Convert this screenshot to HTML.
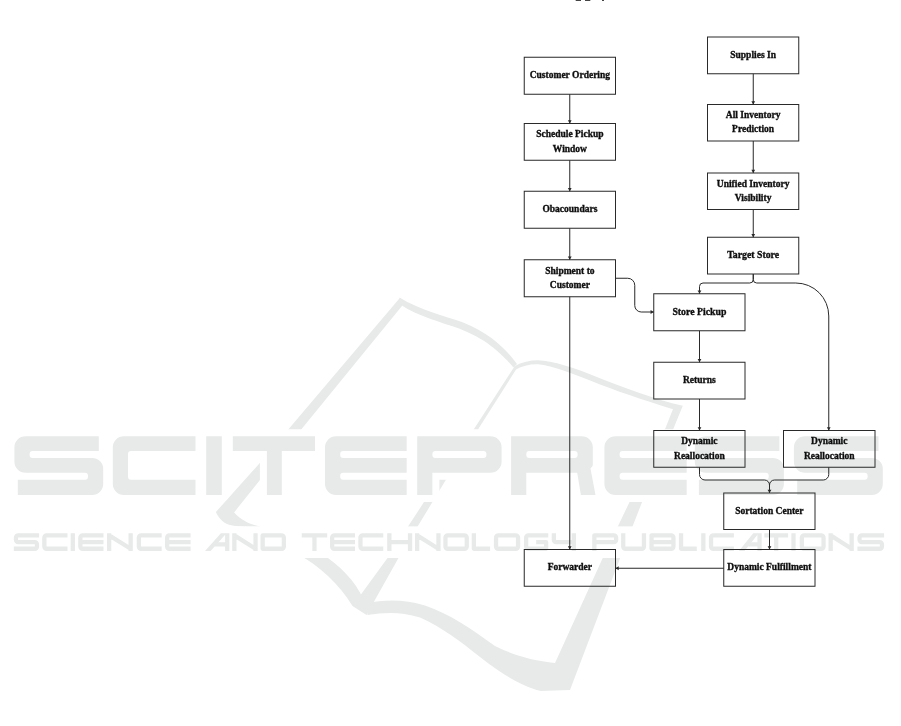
<!DOCTYPE html>
<html><head><meta charset="utf-8"><title>Flow diagram</title>
<style>
html,body{margin:0;padding:0;background:#fff;}
body{width:901px;height:726px;overflow:hidden;font-family:"Liberation Serif",serif;}
svg{display:block;}
</style></head><body>
<svg width="901" height="726" viewBox="0 0 901 726">
<defs><filter id="bl2" x="0" y="0" width="901" height="726" filterUnits="userSpaceOnUse"><feGaussianBlur stdDeviation="0.6"/></filter></defs>
<rect width="901" height="726" fill="#fff"/>
<g id="wm" filter="url(#bl2)">
<g fill="#e8eaea" stroke="none">
<path d="M400 297.8 L259.6 463.3 L215.9 511.9 C218 517 222 522 229 524.8 C238 527 250 526.8 260.4 526.4 C250 524.5 241 520 234.1 512.4 L259.4 480.7 L404 303.5 Z"/>
<path d="M399.5 297.5 C420 310 445 316 462 322 C490 333 505 348 517 364 L513.5 367.5 C500 352 486 339 459 328.5 C440 322 418 316 401 305 Z"/>
<path d="M514 366.5 C522 362 530 360.3 538 360.3 C552 360.5 575 368 600 378.3 C625 388 655 399.5 682.8 405.8 L674 409.5 C655 403.5 625 394 600 384.4 C575 374.5 552 365.5 538 364.3 C530 364 522 366 516 369.5 Z"/>
<path d="M518 366.5 L445.5 480.5 L398.5 558 L366.5 615 L352.5 606 L387.5 558 L438 480.5 L474 429 L514.5 366.5 Z"/>
<path d="M296 553 C320 566 340 585 352.5 606 L363.75 600 C355 580 340 566 321 553 Z"/>
<path d="M366 603 C385 599.5 405 599 425 605.5 C450 614 470 628 495 646 C515 656 535 661 555 663 L602.5 558.5 L630 501 L665.6 427.8 L673.3 408.3 L682.8 405.8 L673.3 428.9 L642.5 501 L620 558.5 L570 690 L541 691 C522 686.5 503 675 480 657 C460 641 443 628 420 617.5 C400 611.5 385 612.5 367.5 615 Z"/>
</g>
<path d="M14.40 447.20A11.0 11.0 0 0 1 25.40 436.20L98.80 436.20L98.80 451.10L32.60 451.10A3.0 3.0 0 0 0 29.60 454.10L29.60 454.90A3.0 3.0 0 0 0 32.60 457.90L92.20 457.90A11.0 11.0 0 0 1 103.20 468.90L103.20 483.90A11.0 11.0 0 0 1 92.20 494.90L17.80 494.90L17.80 479.70L85.00 479.70A3.0 3.0 0 0 0 88.00 476.70L88.00 475.80A3.0 3.0 0 0 0 85.00 472.80L25.40 472.80A11.0 11.0 0 0 1 14.40 461.80Z M112.80 447.20A11.0 11.0 0 0 1 123.80 436.20L195.50 436.20L195.50 451.10L131.00 451.10A3.0 3.0 0 0 0 128.00 454.10L128.00 476.70A3.0 3.0 0 0 0 131.00 479.70L195.50 479.70L195.50 494.90L123.80 494.90A11.0 11.0 0 0 1 112.80 483.90Z M206.20 436.20L221.80 436.20L221.80 494.90L206.20 494.90Z M232.80 436.20L315.00 436.20L315.00 451.10L281.80 451.10L281.80 494.90L266.90 494.90L266.90 451.10L232.80 451.10Z M325.00 447.20A11.0 11.0 0 0 1 336.00 436.20L406.70 436.20L406.70 451.10L343.20 451.10A3.0 3.0 0 0 0 340.20 454.10L340.20 454.90A3.0 3.0 0 0 0 343.20 457.90L406.70 457.90L406.70 472.80L343.20 472.80A3.0 3.0 0 0 0 340.20 475.80L340.20 476.70A3.0 3.0 0 0 0 343.20 479.70L406.70 479.70L406.70 494.90L336.00 494.90A11.0 11.0 0 0 1 325.00 483.90Z M417.20 436.20L490.60 436.20A11.0 11.0 0 0 1 501.60 447.20L501.60 461.80A11.0 11.0 0 0 1 490.60 472.80L432.40 472.80L432.40 494.90L417.20 494.90ZM435.40 451.10A3.0 3.0 0 0 0 432.40 454.10L432.40 454.90A3.0 3.0 0 0 0 435.40 457.90L483.40 457.90A3.0 3.0 0 0 0 486.40 454.90L486.40 454.10A3.0 3.0 0 0 0 483.40 451.10Z M511.10 436.20L581.80 436.20A11.0 11.0 0 0 1 592.80 447.20L592.80 464.83A3.0 3.0 0 0 1 592.01 466.86L590.50 468.50L595.50 494.90L580.90 494.90L577.20 472.80L526.30 472.80L526.30 494.90L511.10 494.90ZM529.30 451.10A3.0 3.0 0 0 0 526.30 454.10L526.30 454.90A3.0 3.0 0 0 0 529.30 457.90L574.60 457.90A3.0 3.0 0 0 0 577.60 454.90L577.60 454.10A3.0 3.0 0 0 0 574.60 451.10Z M604.40 447.20A11.0 11.0 0 0 1 615.40 436.20L686.70 436.20L686.70 451.10L622.60 451.10A3.0 3.0 0 0 0 619.60 454.10L619.60 454.90A3.0 3.0 0 0 0 622.60 457.90L686.70 457.90L686.70 472.80L622.60 472.80A3.0 3.0 0 0 0 619.60 475.80L619.60 476.70A3.0 3.0 0 0 0 622.60 479.70L686.70 479.70L686.70 494.90L615.40 494.90A11.0 11.0 0 0 1 604.40 483.90Z M694.80 447.20A11.0 11.0 0 0 1 705.80 436.20L779.40 436.20L779.40 451.10L713.00 451.10A3.0 3.0 0 0 0 710.00 454.10L710.00 454.90A3.0 3.0 0 0 0 713.00 457.90L772.90 457.90A11.0 11.0 0 0 1 783.90 468.90L783.90 483.90A11.0 11.0 0 0 1 772.90 494.90L698.90 494.90L698.90 479.70L765.70 479.70A3.0 3.0 0 0 0 768.70 476.70L768.70 475.80A3.0 3.0 0 0 0 765.70 472.80L705.80 472.80A11.0 11.0 0 0 1 694.80 461.80Z M793.90 447.20A11.0 11.0 0 0 1 804.90 436.20L878.50 436.20L878.50 451.10L812.10 451.10A3.0 3.0 0 0 0 809.10 454.10L809.10 454.90A3.0 3.0 0 0 0 812.10 457.90L871.80 457.90A11.0 11.0 0 0 1 882.80 468.90L882.80 483.90A11.0 11.0 0 0 1 871.80 494.90L797.20 494.90L797.20 479.70L864.60 479.70A3.0 3.0 0 0 0 867.60 476.70L867.60 475.80A3.0 3.0 0 0 0 864.60 472.80L804.90 472.80A11.0 11.0 0 0 1 793.90 461.80Z" fill="#fff" fill-rule="nonzero" stroke="#fff" stroke-width="14.00" stroke-linejoin="round"/>
<rect x="5" y="526.4" width="890" height="31.6" fill="#fff"/>
<path d="M14.40 447.20A11.0 11.0 0 0 1 25.40 436.20L98.80 436.20L98.80 451.10L32.60 451.10A3.0 3.0 0 0 0 29.60 454.10L29.60 454.90A3.0 3.0 0 0 0 32.60 457.90L92.20 457.90A11.0 11.0 0 0 1 103.20 468.90L103.20 483.90A11.0 11.0 0 0 1 92.20 494.90L17.80 494.90L17.80 479.70L85.00 479.70A3.0 3.0 0 0 0 88.00 476.70L88.00 475.80A3.0 3.0 0 0 0 85.00 472.80L25.40 472.80A11.0 11.0 0 0 1 14.40 461.80Z M112.80 447.20A11.0 11.0 0 0 1 123.80 436.20L195.50 436.20L195.50 451.10L131.00 451.10A3.0 3.0 0 0 0 128.00 454.10L128.00 476.70A3.0 3.0 0 0 0 131.00 479.70L195.50 479.70L195.50 494.90L123.80 494.90A11.0 11.0 0 0 1 112.80 483.90Z M206.20 436.20L221.80 436.20L221.80 494.90L206.20 494.90Z M232.80 436.20L315.00 436.20L315.00 451.10L281.80 451.10L281.80 494.90L266.90 494.90L266.90 451.10L232.80 451.10Z M325.00 447.20A11.0 11.0 0 0 1 336.00 436.20L406.70 436.20L406.70 451.10L343.20 451.10A3.0 3.0 0 0 0 340.20 454.10L340.20 454.90A3.0 3.0 0 0 0 343.20 457.90L406.70 457.90L406.70 472.80L343.20 472.80A3.0 3.0 0 0 0 340.20 475.80L340.20 476.70A3.0 3.0 0 0 0 343.20 479.70L406.70 479.70L406.70 494.90L336.00 494.90A11.0 11.0 0 0 1 325.00 483.90Z M417.20 436.20L490.60 436.20A11.0 11.0 0 0 1 501.60 447.20L501.60 461.80A11.0 11.0 0 0 1 490.60 472.80L432.40 472.80L432.40 494.90L417.20 494.90ZM435.40 451.10A3.0 3.0 0 0 0 432.40 454.10L432.40 454.90A3.0 3.0 0 0 0 435.40 457.90L483.40 457.90A3.0 3.0 0 0 0 486.40 454.90L486.40 454.10A3.0 3.0 0 0 0 483.40 451.10Z M511.10 436.20L581.80 436.20A11.0 11.0 0 0 1 592.80 447.20L592.80 464.83A3.0 3.0 0 0 1 592.01 466.86L590.50 468.50L595.50 494.90L580.90 494.90L577.20 472.80L526.30 472.80L526.30 494.90L511.10 494.90ZM529.30 451.10A3.0 3.0 0 0 0 526.30 454.10L526.30 454.90A3.0 3.0 0 0 0 529.30 457.90L574.60 457.90A3.0 3.0 0 0 0 577.60 454.90L577.60 454.10A3.0 3.0 0 0 0 574.60 451.10Z M604.40 447.20A11.0 11.0 0 0 1 615.40 436.20L686.70 436.20L686.70 451.10L622.60 451.10A3.0 3.0 0 0 0 619.60 454.10L619.60 454.90A3.0 3.0 0 0 0 622.60 457.90L686.70 457.90L686.70 472.80L622.60 472.80A3.0 3.0 0 0 0 619.60 475.80L619.60 476.70A3.0 3.0 0 0 0 622.60 479.70L686.70 479.70L686.70 494.90L615.40 494.90A11.0 11.0 0 0 1 604.40 483.90Z M694.80 447.20A11.0 11.0 0 0 1 705.80 436.20L779.40 436.20L779.40 451.10L713.00 451.10A3.0 3.0 0 0 0 710.00 454.10L710.00 454.90A3.0 3.0 0 0 0 713.00 457.90L772.90 457.90A11.0 11.0 0 0 1 783.90 468.90L783.90 483.90A11.0 11.0 0 0 1 772.90 494.90L698.90 494.90L698.90 479.70L765.70 479.70A3.0 3.0 0 0 0 768.70 476.70L768.70 475.80A3.0 3.0 0 0 0 765.70 472.80L705.80 472.80A11.0 11.0 0 0 1 694.80 461.80Z M793.90 447.20A11.0 11.0 0 0 1 804.90 436.20L878.50 436.20L878.50 451.10L812.10 451.10A3.0 3.0 0 0 0 809.10 454.10L809.10 454.90A3.0 3.0 0 0 0 812.10 457.90L871.80 457.90A11.0 11.0 0 0 1 882.80 468.90L882.80 483.90A11.0 11.0 0 0 1 871.80 494.90L797.20 494.90L797.20 479.70L864.60 479.70A3.0 3.0 0 0 0 867.60 476.70L867.60 475.80A3.0 3.0 0 0 0 864.60 472.80L804.90 472.80A11.0 11.0 0 0 1 793.90 461.80Z" fill="#e8eaea" fill-rule="evenodd" stroke="none"/>
<path d="M39.1 535.35H18.150000000000002a2.2 2.2 0 0 0 -2.2 2.2V539.8499999999999a2.2 2.2 0 0 0 2.2 2.2H34.75a2.2 2.2 0 0 1 2.2 2.2V546.55a2.2 2.2 0 0 1 -2.2 2.2H13.8 M67.5 535.35H46.550000000000004a2.2 2.2 0 0 0 -2.2 2.2V546.55a2.2 2.2 0 0 0 2.2 2.2H67.5 M72.80000000000001 533.2V550.9 M103.5 535.35H82.55000000000001a2.2 2.2 0 0 0 -2.2 2.2V546.55a2.2 2.2 0 0 0 2.2 2.2H103.5M80.35000000000001 542.05H103.5 M109.15 550.9V533.2M109.15 535.35L130.65 548.75M130.65 550.9V533.2 M161.7 535.35H141.04999999999998a2.2 2.2 0 0 0 -2.2 2.2V546.55a2.2 2.2 0 0 0 2.2 2.2H161.7 M190.6 535.35H169.35a2.2 2.2 0 0 0 -2.2 2.2V546.55a2.2 2.2 0 0 0 2.2 2.2H190.6M167.15 542.05H190.6 M227.25 533.2V550.9M214.5 544.35H227.25 M234.35 550.9V533.2M234.35 535.35L255.54999999999998 548.75M255.54999999999998 550.9V533.2 M262.65 535.35H281.65000000000003a2.2 2.2 0 0 1 2.2 2.2V546.55a2.2 2.2 0 0 1 -2.2 2.2H262.65Z M301.7 535.35H327.2M314.45 535.35V550.9 M355.0 535.35H334.34999999999997a2.2 2.2 0 0 0 -2.2 2.2V546.55a2.2 2.2 0 0 0 2.2 2.2H355.0M332.15 542.05H355.0 M383.3 535.35H362.65a2.2 2.2 0 0 0 -2.2 2.2V546.55a2.2 2.2 0 0 0 2.2 2.2H383.3 M389.34999999999997 533.2V550.9M410.05 533.2V550.9M389.34999999999997 542.05H410.05 M417.15 550.9V533.2M417.15 535.35L438.45000000000005 548.75M438.45000000000005 550.9V533.2 M447.65 535.35H464.55a2.2 2.2 0 0 1 2.2 2.2V546.55a2.2 2.2 0 0 1 -2.2 2.2H447.65a2.2 2.2 0 0 1 -2.2 -2.2V537.5500000000001a2.2 2.2 0 0 1 2.2 -2.2Z M473.84999999999997 533.2V548.75H490.1 M498.24999999999994 535.35H515.85a2.2 2.2 0 0 1 2.2 2.2V546.55a2.2 2.2 0 0 1 -2.2 2.2H498.24999999999994a2.2 2.2 0 0 1 -2.2 -2.2V537.5500000000001a2.2 2.2 0 0 1 2.2 -2.2Z M548.3 535.35H528.35a2.2 2.2 0 0 0 -2.2 2.2V546.55a2.2 2.2 0 0 0 2.2 2.2H546.15V542.05H536.15 M553.85 533.2V539.8499999999999a2.2 2.2 0 0 0 2.2 2.2H573.85M573.85 533.2V550.9 M594.35 550.9V535.35H613.9499999999999a2.2 2.2 0 0 1 2.2 2.2V539.8499999999999a2.2 2.2 0 0 1 -2.2 2.2H594.35 M623.25 533.2V546.55a2.2 2.2 0 0 0 2.2 2.2H641.75a2.2 2.2 0 0 0 2.2 -2.2V533.2 M651.55 535.35H671.25a2.2 2.2 0 0 1 2.2 2.2V546.55a2.2 2.2 0 0 1 -2.2 2.2H651.55ZM651.55 542.05H673.45 M681.05 533.2V548.75H696.8 M703.35 533.2V550.9 M733.9 535.35H713.25a2.2 2.2 0 0 0 -2.2 2.2V546.55a2.2 2.2 0 0 0 2.2 2.2H733.9 M759.5500000000001 533.2V550.9M748.4 544.35H759.5500000000001 M764.3 535.35H788.1M776.2 535.35V550.9 M793.5 533.2V550.9 M804.0500000000001 535.35H821.35a2.2 2.2 0 0 1 2.2 2.2V546.55a2.2 2.2 0 0 1 -2.2 2.2H804.0500000000001a2.2 2.2 0 0 1 -2.2 -2.2V537.5500000000001a2.2 2.2 0 0 1 2.2 -2.2Z M830.65 550.9V533.2M830.65 535.35L851.65 548.75M851.65 550.9V533.2 M884.1 535.35H861.75a2.2 2.2 0 0 0 -2.2 2.2V539.8499999999999a2.2 2.2 0 0 0 2.2 2.2H879.75a2.2 2.2 0 0 1 2.2 2.2V546.55a2.2 2.2 0 0 1 -2.2 2.2H857.4" fill="none" stroke="#e8eaea" stroke-width="4.30" stroke-linejoin="round"/>
<path d="M205.0 550.9H210.6L225.6 534.2V533.2H220.9Z M738.9 550.9H744.5L757.9000000000001 534.2V533.2H753.2Z" fill="#e8eaea" stroke="none"/>
</g>
<defs><filter id="bl" x="0" y="0" width="901" height="726" filterUnits="userSpaceOnUse"><feGaussianBlur stdDeviation="0.4"/></filter></defs><g filter="url(#bl)">
<g fill="none" stroke="#2a2a2a" stroke-width="1">
<rect x="524.25" y="57.25" width="91.25" height="37.00"/>
<rect x="524.25" y="123.50" width="91.25" height="36.75"/>
<rect x="524.25" y="191.25" width="91.25" height="37.00"/>
<rect x="524.25" y="259.75" width="91.25" height="37.00"/>
<rect x="524.25" y="549.50" width="91.25" height="36.75"/>
<rect x="707.50" y="37.00" width="91.25" height="36.75"/>
<rect x="707.50" y="104.50" width="91.25" height="36.50"/>
<rect x="707.50" y="173.00" width="91.25" height="36.50"/>
<rect x="707.50" y="237.25" width="91.25" height="36.75"/>
<rect x="653.75" y="293.75" width="91.25" height="37.00"/>
<rect x="653.75" y="362.25" width="91.25" height="36.75"/>
<rect x="653.75" y="430.50" width="91.25" height="36.75"/>
<rect x="783.50" y="430.50" width="91.50" height="36.75"/>
<rect x="723.75" y="493.00" width="91.25" height="36.50"/>
<rect x="723.75" y="549.50" width="91.25" height="36.75"/>
<path d="M569.75 94.25V123.50"/>
<path d="M569.75 160.25V191.25"/>
<path d="M569.75 228.25V259.75"/>
<path d="M569.75 296.75V549.50"/>
<path d="M753.25 73.75V104.50"/>
<path d="M753.25 141.00V173.00"/>
<path d="M753.25 209.50V237.25"/>
<path d="M699.50 330.75V362.25"/>
<path d="M699.50 399.00V430.50"/>
<path d="M769.50 529.50V549.50"/>
<path d="M723.75 568.25H615.5"/>
<path d="M615.5 278.25H627.75a7 7 0 0 1 7 7V305.5a6.5 6.5 0 0 0 6.5 6.5H653.75"/>
<path d="M753.25 274V279.5a3.5 3.5 0 0 1 -3.5 3.5H703a3.5 3.5 0 0 0 -3.5 3.5V293.75"/>
<path d="M753.25 274V279.5a3.5 3.5 0 0 0 3.5 3.5H795.75a33 33 0 0 1 33 33V430.5"/>
<path d="M699.50 467.25V474.5a5.5 5.5 0 0 0 5.5 5.5H764.50a5 5 0 0 1 5 5V493"/>
<path d="M828.75 467.25V474.5a5.5 5.5 0 0 1 -5.5 5.5H774.50a5 5 0 0 0 -5 5"/>
</g>
<g fill="#2a2a2a" stroke="none">
<path d="M569.75 123.50l-1.90 -3.20h3.80z"/>
<path d="M569.75 191.25l-1.90 -3.20h3.80z"/>
<path d="M569.75 259.75l-1.90 -3.20h3.80z"/>
<path d="M569.75 549.50l-1.90 -3.20h3.80z"/>
<path d="M753.25 104.50l-1.90 -3.20h3.80z"/>
<path d="M753.25 173.00l-1.90 -3.20h3.80z"/>
<path d="M753.25 237.25l-1.90 -3.20h3.80z"/>
<path d="M699.50 362.25l-1.90 -3.20h3.80z"/>
<path d="M699.50 430.50l-1.90 -3.20h3.80z"/>
<path d="M769.50 549.50l-1.90 -3.20h3.80z"/>
<path d="M699.50 293.75l-1.90 -3.20h3.80z"/>
<path d="M828.75 430.50l-1.90 -3.20h3.80z"/>
<path d="M769.50 493.00l-1.90 -3.20h3.80z"/>
<path d="M615.50 568.25l3.20 -1.90v3.80z"/>
<path d="M653.75 312.00l-3.20 -1.90v3.80z"/>
</g>
<g font-family="'Liberation Serif', serif" font-weight="bold" font-size="9.5" fill="#111" stroke="#111" stroke-width="0.35" text-anchor="middle">
<text x="569.88" y="78.25">Customer Ordering</text>
<text x="569.88" y="137.25">Schedule Pickup</text>
<text x="569.88" y="151.50">Window</text>
<text x="569.88" y="212.25">Obacoundars</text>
<text x="569.88" y="273.62">Shipment to</text>
<text x="569.88" y="287.88">Customer</text>
<text x="569.88" y="570.38">Forwarder</text>
<text x="753.12" y="57.88">Supplies In</text>
<text x="753.12" y="118.12">All Inventory</text>
<text x="753.12" y="132.38">Prediction</text>
<text x="753.12" y="186.62">Unified Inventory</text>
<text x="753.12" y="200.88">Visibility</text>
<text x="753.12" y="258.12" font-size="9.8">Target Store</text>
<text x="699.38" y="314.75" font-size="9.8">Store Pickup</text>
<text x="699.38" y="383.12">Returns</text>
<text x="699.38" y="444.25">Dynamic</text>
<text x="699.38" y="458.50">Reallocation</text>
<text x="829.25" y="444.25">Dynamic</text>
<text x="829.25" y="458.50">Reallocation</text>
<text x="769.38" y="513.75">Sortation Center</text>
<text x="769.38" y="570.38">Dynamic Fulfillment</text>
</g>
<path d="M575.7 0h5.3v0.9h-5.3zM585 0h5.3v0.9h-5.3zM602 0h2v0.9h-2z" fill="#444"/>
</g>
</svg>
</body></html>
